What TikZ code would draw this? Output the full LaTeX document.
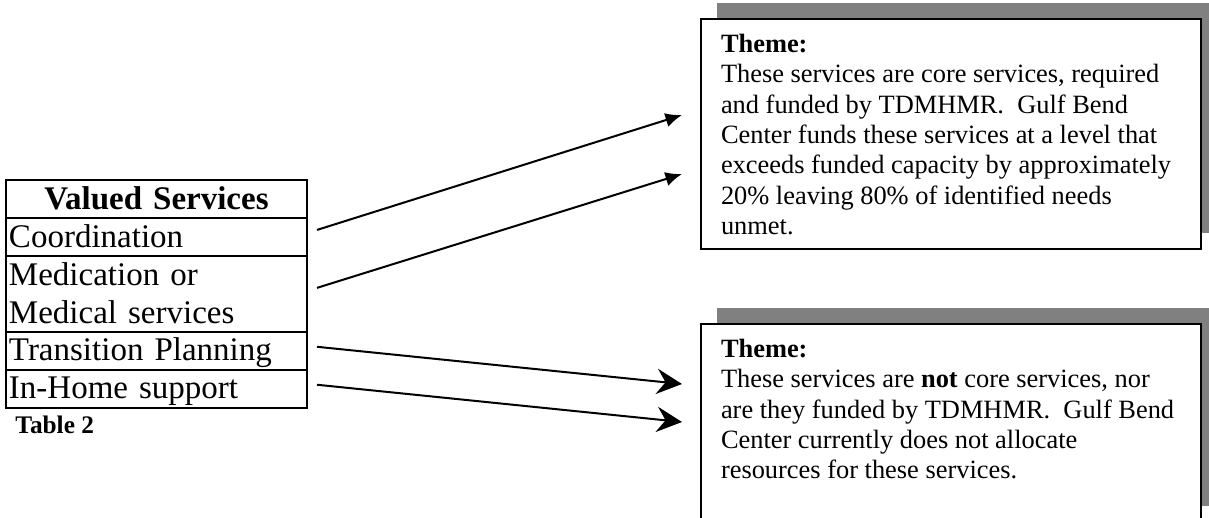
\documentclass[tikz,border=0pt]{standalone}
\usepackage{fontspec}
\setmainfont{Liberation Serif}
\usepackage{tikz}
\usetikzlibrary{arrows.meta,positioning,shadows}

\newdimen\px
\px=0.4545pt
\newcommand\tblfont{\fontsize{15}{17.25}\selectfont}
\newcommand\thmfont{\fontsize{12}{13.8}\selectfont}
\newcommand\rowstrut{\rule[-4pt]{0pt}{17.25pt}}

\begin{document}
\begin{tikzpicture}[
    x=\px, y=-\px,
    cell/.style={draw, line width=2\px, outer sep=0pt, inner xsep=3\px, inner ysep=0pt, text width=295\px, align=left, font=\tblfont},
    headcell/.style={cell, align=center, font=\tblfont\bfseries},
    theme/.style={draw, line width=2\px, fill=white, outer sep=0pt, inner xsep=20\px, inner ysep=15\px, font=\thmfont,
        drop shadow={shadow xshift=16\px, shadow yshift=16\px, fill=black!50, opacity=1}},
    tri/.style={-{Latex[length=7.5pt, width=6.5pt]}, line width=2\px},
    barb/.style={-{Stealth[length=11.5pt, width=11.5pt, inset=4pt]}, line width=2\px}
]
\useasboundingbox (0,0) rectangle (1209,518);

% Table of valued services, rows stacked under the heading.
\node[headcell, anchor=north west] (head) at (6,180) {\rowstrut Valued Services};
\node[cell, below=0pt of head] (coord) {\rowstrut Coordination};
\node[cell, below=0pt of coord] (med) {\rowstrut Medication or\\\rowstrut Medical services};
\node[cell, below=0pt of med] (trans) {\rowstrut Transition Planning};
\node[cell, below=0pt of trans] (home) {\rowstrut In-Home support};
\node[anchor=base west, inner sep=0pt, font=\fontsize{11.5}{13}\selectfont\bfseries] (caption) at ([shift={(9,26)}]home.south west) {Table 2};

% Theme boxes on the right.
\node[theme, anchor=north west] (core) at (701,19) {\parbox[t][200\px][t]{460\px}{\raggedright
    \textbf{Theme:}\\
    These services are core services, required\\
    and funded by TDMHMR.\ \ Gulf Bend\\
    Center funds these services at a level that\\
    exceeds funded capacity by approximately\\
    20\% leaving 80\% of identified needs\\
    unmet.}};
\node[theme, anchor=north west] (noncore) at (701,324) {\parbox[t][168\px][t]{460\px}{\raggedright
    \textbf{Theme:}\\
    These services are \textbf{not} core services, nor\\
    are they funded by TDMHMR.\ \ Gulf Bend\\
    Center currently does not allocate\\
    resources for these services.}};

% Arrow ends just left of the boxes.
\coordinate (inA) at ([shift={(-19,96)}]core.north west);
\coordinate (inB) at ([shift={(-19,155)}]core.north west);
\coordinate (inC) at ([shift={(-19,60)}]noncore.north west);
\coordinate (inD) at ([shift={(-19,98)}]noncore.north west);

\draw[tri] ([shift={(10,-7)}]coord.east) -- (inA);
\draw[tri] ([shift={(10,-6)}]med.east) -- (inB);
\draw[barb] ([shift={(10,-4)}]trans.east) -- (inC);
\draw[barb] ([shift={(10,-4)}]home.east) -- (inD);

\end{tikzpicture}
\end{document}
